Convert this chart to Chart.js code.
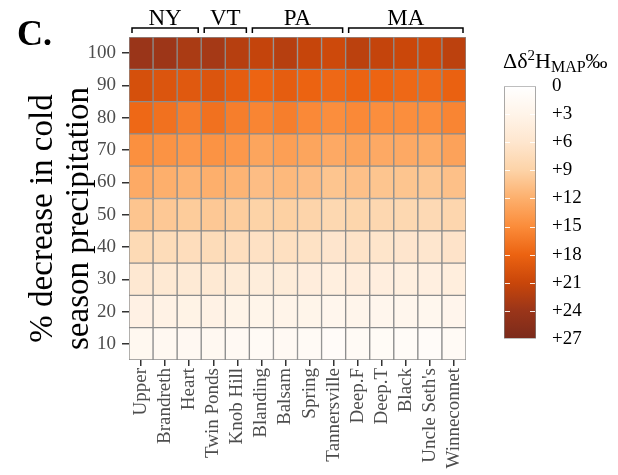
<!DOCTYPE html>
<html>
<head>
<meta charset="utf-8">
<script src="https://cdn.jsdelivr.net/npm/chart.js@4.4.1/dist/chart.umd.min.js"></script>
<style>
  body { margin: 0; background: #fff; }
  #wrap { position: relative; width: 618px; height: 475px; }
  #mapa { position: absolute; left: 0; top: 0; }
  #barra { position: absolute; left: 495px; top: 67px; }
  #titulo-barra {
    position: absolute; left: 503px; top: 47px;
    font-family: "Liberation Serif", serif; font-size: 22px; color: #000;
    white-space: nowrap;
  }
  #titulo-barra sup { font-size: 15px; vertical-align: 8px; }
  #titulo-barra sub { font-size: 16px; vertical-align: -4px; }
</style>
</head>
<body>
<div id="wrap">
  <canvas id="mapa" width="618" height="475"></canvas>
  <canvas id="barra" width="123" height="291"></canvas>
  <div id="titulo-barra">&Delta;&delta;<sup>2</sup>H<sub>MAP</sub>&permil;</div>
</div>
<script>
// ==================== DATOS ====================
const lakes = ['Upper', 'Brandreth', 'Heart', 'Twin Ponds', 'Knob Hill', 'Blanding', 'Balsam',
               'Spring', 'Tannersville', 'Deep.F', 'Deep.T', 'Black', "Uncle Seth's", 'Winneconnet'];
const states = ['NY', 'VT', 'PA', 'MA'];
const stateFirst = [0, 3, 5, 9];
const stateLast = [2, 4, 8, 13];

const decreases = [10, 20, 30, 40, 50, 60, 70, 80, 90, 100];
const yTitle = ['% decrease in cold', 'season precipitation'];

// one row per decrease (10 ... 100), one value per lake
const deltaValues = [
  [2.0, 1.9, 1.8, 1.9, 1.7, 1.4, 1.6, 1.4, 1.0, 1.3, 1.2, 1.1, 1.0, 1.3],
  [3.6, 3.4, 3.3, 3.4, 3.1, 2.8, 3.0, 2.8, 2.4, 2.7, 2.5, 2.4, 2.3, 2.6],
  [5.6, 5.4, 5.2, 5.4, 5.0, 4.6, 4.8, 4.5, 4.1, 4.4, 4.2, 4.1, 4.0, 4.3],
  [7.9, 7.6, 7.4, 7.6, 7.2, 6.8, 7.0, 6.7, 6.1, 6.5, 6.2, 6.1, 6.0, 6.4],
  [10.2, 9.9, 9.6, 9.9, 9.5, 9.0, 9.2, 8.8, 8.2, 8.6, 8.3, 8.2, 8.0, 8.5],
  [12.4, 12.0, 11.6, 12.0, 11.6, 10.8, 11.2, 10.8, 10.2, 10.6, 10.2, 10.2, 10.0, 10.6],
  [14.7, 14.4, 14.0, 14.4, 14.0, 12.9, 13.4, 12.9, 12.5, 12.9, 12.5, 12.5, 12.3, 13.1],
  [17.6, 17.0, 16.0, 17.0, 16.0, 15.5, 16.0, 15.2, 14.8, 15.2, 14.8, 14.8, 14.8, 15.5],
  [20.0, 19.5, 19.0, 19.5, 18.6, 17.9, 18.6, 18.0, 17.6, 18.0, 17.9, 17.6, 17.5, 18.2],
  [24.0, 23.8, 23.0, 23.3, 22.2, 21.3, 22.2, 21.2, 20.7, 21.9, 21.3, 20.9, 20.7, 21.8]
];

const legendTicks = [0, 3, 6, 9, 12, 15, 18, 21, 24, 27];
const legendColors = ['#ffffff', '#fff4e9', '#fee6ce', '#fdd3a7', '#fdaf6c',
                      '#fb8c3a', '#ec6311', '#c9460a', '#9a3519', '#7b2a1b'];

// ==================== COLORES ====================
function hexToRgb(h) {
  return [parseInt(h.substr(1, 2), 16), parseInt(h.substr(3, 2), 16), parseInt(h.substr(5, 2), 16)];
}

function colorFor(v) {
  let i = 0;
  while (i < legendTicks.length - 2 && v > legendTicks[i + 1]) i++;
  const t = Math.max(0, Math.min(1, (v - legendTicks[i]) / (legendTicks[i + 1] - legendTicks[i])));
  const a = hexToRgb(legendColors[i]);
  const b = hexToRgb(legendColors[i + 1]);
  const c = a.map((x, k) => Math.round(x + (b[k] - x) * t));
  return `rgb(${c[0]},${c[1]},${c[2]})`;
}

const serif = '"Liberation Serif", "Times New Roman", serif';

// ==================== HEATMAP ====================
const datasets = decreases.map((d, r) => ({
  data: lakes.map(() => [d - 5, d + 5]),
  backgroundColor: deltaValues[r].map(colorFor),
  borderColor: '#8c8c8c',
  borderWidth: 1,
  borderSkipped: false,
  barPercentage: 1,
  categoryPercentage: 1,
  grouped: false
}));

// corchetes de estados, titulo del eje y etiqueta del panel
const extrasPlugin = {
  id: 'extras',
  afterDraw(chart) {
    const ctx = chart.ctx;
    const x = chart.scales.x;
    const half = (x.getPixelForValue(1) - x.getPixelForValue(0)) / 2;
    ctx.save();
    ctx.strokeStyle = '#000';
    ctx.lineWidth = 1.5;
    ctx.fillStyle = '#000';
    ctx.font = '23px ' + serif;
    ctx.textAlign = 'center';
    ctx.textBaseline = 'alphabetic';
    for (let i = 0; i < states.length; i++) {
      const x0 = x.getPixelForValue(stateFirst[i]) - half + 3;
      const x1 = x.getPixelForValue(stateLast[i]) + half - 3;
      ctx.beginPath();
      ctx.moveTo(x0, 33);
      ctx.lineTo(x0, 28);
      ctx.lineTo(x1, 28);
      ctx.lineTo(x1, 33);
      ctx.stroke();
      ctx.fillText(states[i], (x0 + x1) / 2, 25);
    }

    // titulo del eje y (dos lineas, girado)
    ctx.save();
    ctx.translate(0, (chart.chartArea.top + chart.chartArea.bottom) / 2 + 20);
    ctx.rotate(-Math.PI / 2);
    ctx.font = '33px ' + serif;
    ctx.fillText(yTitle[0], 0, 52);
    ctx.fillText(yTitle[1], 0, 88);
    ctx.restore();

    ctx.font = 'bold 36px ' + serif;
    ctx.textAlign = 'left';
    ctx.fillText('C.', 17, 45);
    ctx.restore();
  }
};

new Chart(document.getElementById('mapa'), {
  type: 'bar',
  data: { labels: lakes, datasets: datasets },
  options: {
    responsive: false,
    animation: false,
    layout: { padding: { top: 37, right: 152, left: 0, bottom: 0 } },
    plugins: { legend: { display: false }, tooltip: { enabled: false } },
    scales: {
      x: {
        grid: { display: true, offset: false, drawOnChartArea: false, drawTicks: true,
                tickLength: 6, color: '#333', lineWidth: 1.5 },
        border: { display: false },
        ticks: { autoSkip: false, minRotation: 90, maxRotation: 90, padding: 2,
                 color: '#4d4d4d', font: { family: serif, size: 19 } },
        afterFit(scale) { scale.height = 115; }
      },
      y: {
        min: 5,
        max: 105,
        afterBuildTicks(scale) { scale.ticks = decreases.map(v => ({ value: v })); },
        grid: { display: true, drawOnChartArea: false, drawTicks: true,
                tickLength: 7, color: '#333', lineWidth: 1.5 },
        border: { display: false },
        ticks: { autoSkip: false, padding: 6, color: '#4d4d4d', font: { family: serif, size: 19 } },
        afterFit(scale) { scale.width = 129; }
      }
    }
  },
  plugins: [extrasPlugin]
});

// ==================== BARRA DE COLOR ====================
const ticksPlugin = {
  id: 'barTicks',
  afterDatasetsDraw(chart) {
    const ctx = chart.ctx;
    const y = chart.scales.y;
    const area = chart.chartArea;
    ctx.save();
    ctx.strokeStyle = 'rgba(255,255,255,0.9)';
    ctx.lineWidth = 1;
    for (let i = 1; i < legendTicks.length - 1; i++) {
      const py = Math.round(y.getPixelForValue(legendTicks[i])) + 0.5;
      ctx.beginPath();
      ctx.moveTo(area.left + 1, py);
      ctx.lineTo(area.left + 6, py);
      ctx.moveTo(area.right - 6, py);
      ctx.lineTo(area.right - 1, py);
      ctx.stroke();
    }
    ctx.restore();
  }
};

new Chart(document.getElementById('barra'), {
  type: 'bar',
  data: {
    labels: [''],
    datasets: [{
      data: [[legendTicks[0], legendTicks[legendTicks.length - 1]]],
      backgroundColor(c) {
        const chart = c.chart;
        if (!chart.chartArea) return legendColors[0];
        const y = chart.scales.y;
        const y0 = y.getPixelForValue(legendTicks[0]);
        const y1 = y.getPixelForValue(legendTicks[legendTicks.length - 1]);
        const g = chart.ctx.createLinearGradient(0, y0, 0, y1);
        legendTicks.forEach((v, i) => {
          g.addColorStop((y.getPixelForValue(v) - y0) / (y1 - y0), legendColors[i]);
        });
        return g;
      },
      borderColor: '#7f7f7f',
      borderWidth: 1,
      borderSkipped: false,
      barPercentage: 1,
      categoryPercentage: 1
    }]
  },
  options: {
    responsive: false,
    animation: false,
    layout: { padding: { top: 0, left: 9, right: 0, bottom: 0 } },
    plugins: { legend: { display: false }, tooltip: { enabled: false } },
    scales: {
      x: { display: false },
      y: {
        position: 'right',
        reverse: true,
        min: 0,
        max: 27,
        afterBuildTicks(scale) { scale.ticks = legendTicks.map(v => ({ value: v })); },
        grid: { display: false },
        border: { display: false },
        ticks: {
          autoSkip: false, padding: 8, color: '#000',
          font: { family: serif, size: 19 },
          callback: v => (v === 0 ? '0' : '+' + v)
        },
        afterFit(scale) { scale.width = 82; }
      }
    }
  },
  plugins: [ticksPlugin]
});
</script>
</body>
</html>
